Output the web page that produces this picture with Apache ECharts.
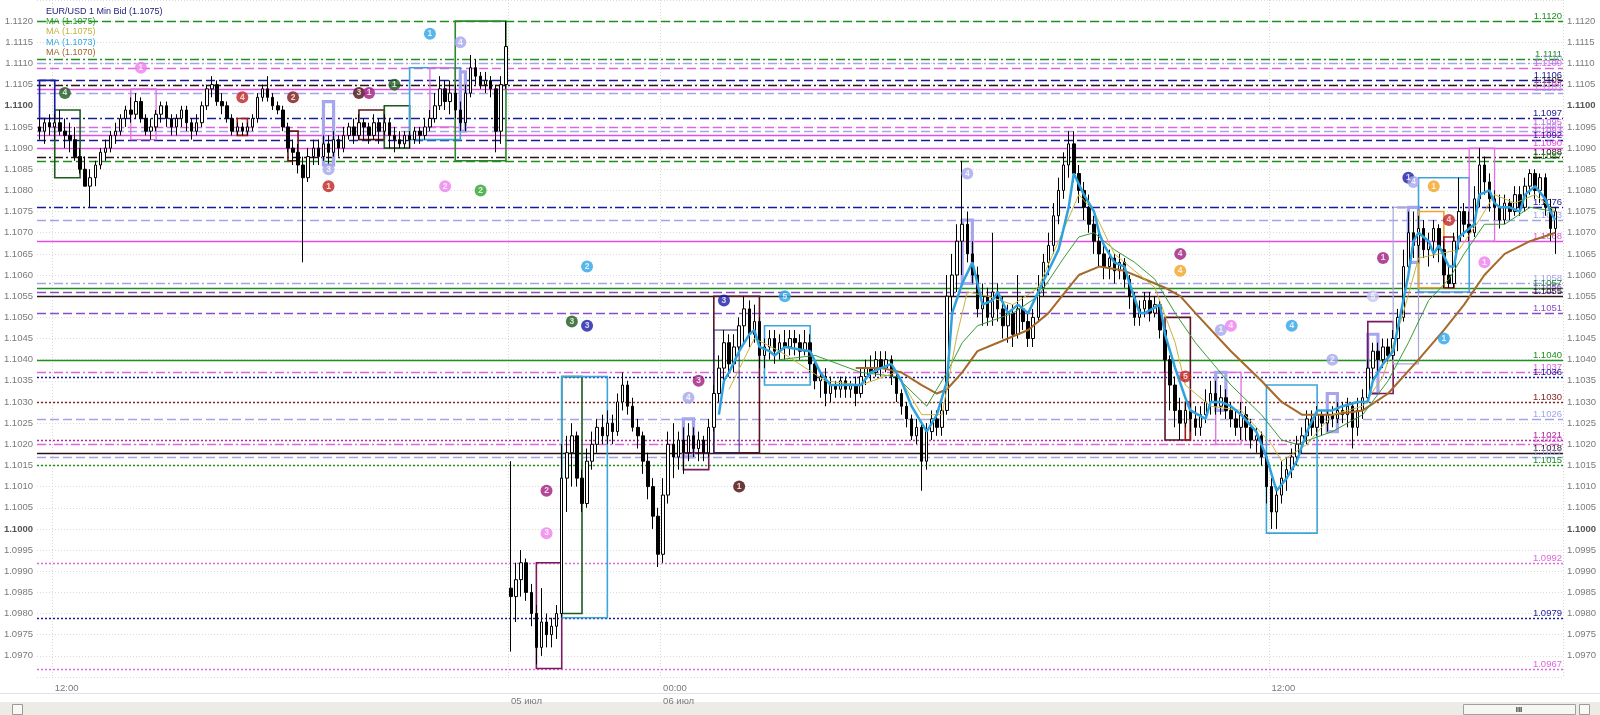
<!DOCTYPE html>
<html><head><meta charset="utf-8">
<script src="https://cdn.jsdelivr.net/npm/echarts@6/dist/echarts.min.js"></script>
<style>html,body{margin:0;padding:0;background:#fff}#c{width:1600px;height:715px}</style>
</head><body><div id="c"></div>
<script>
// prices are stored in pips above 1.0900 : [open, close, low, high]
const friBars = [
[195,194,192,197],[194,196,191,197],[196,195,193,198],[195,196,192,198],[196,194,193,199],[194,193,190,197],[193,192,189,196],[192,188,187,195],[188,185,184,190],[185,181,181,188],
[181,183,176,185],[183,186,181,187],[186,189,185,190],[189,190,187,192],[190,193,189,194],[193,194,191,196],[194,197,193,198],[197,199,195,200],[199,198,196,202],[198,201,197,203],
[201,197,196,202],[197,194,193,198],[194,195,192,197],[195,198,194,199],[198,200,196,201],[200,197,195,201],[197,195,193,198],[195,197,193,198],[197,199,195,200],[199,196,194,200],
[196,194,192,197],[194,196,193,198],[196,200,195,201],[200,204,199,205],[204,205,202,207],[205,201,200,206],[201,200,198,203],[200,197,196,201],[197,194,193,198],[194,195,193,196],
[195,194,193,196],[194,195,193,196],[195,197,194,198],[197,202,196,203],[202,204,201,205],[204,202,201,207],[202,200,199,203],[200,199,198,201],[199,195,194,200],[195,190,189,196],
[190,189,186,192],[189,186,184,191],[186,183,163,188],[183,188,182,190],[188,190,186,192],[190,188,186,192],[188,191,187,193],[191,189,186,193],[189,192,188,194],[192,190,188,193],
[190,193,189,195],[193,195,192,196],[195,193,191,197],[193,196,192,198],[196,195,192,197],[195,193,191,196],[193,196,192,198],[196,194,191,197],[194,196,193,198],[196,193,190,197],
[193,192,189,195],[192,191,190,194],[191,193,190,194],[193,192,190,194],[192,194,191,195],[194,193,191,195],[193,195,192,197],[195,197,194,199],[197,200,196,203],[200,204,199,207],
[204,201,199,206],[201,203,198,206],[203,199,197,205],[199,196,194,201],[196,203,194,205],[203,209,202,212],[209,207,205,211],[207,205,204,208],[205,206,203,208],[206,204,202,207],
[204,194,189,205],[194,205,191,207],[205,214,204,220]
];
const monBars = [
[86,84,71,116],[84,88,78,92],[88,92,84,95],[92,85,83,93],[85,80,77,87],[80,72,68,82],[72,78,70,86],[78,75,72,80],[75,77,72,79],[77,80,74,82],
[80,112,79,120],[112,118,104,122],[118,122,110,125],[122,112,110,123],[112,106,104,114],[106,116,105,119],[116,120,114,123],[120,124,118,126],[124,122,120,127],[122,125,120,128],
[125,123,120,127],[123,130,122,132],[130,134,128,137],[134,129,127,135],[129,124,123,131],[124,122,119,126],[122,116,113,123],[116,110,107,118],[110,103,100,112],[103,94,91,105],
[94,108,92,112],[108,120,106,123],[120,117,112,125],[117,121,114,123],[121,118,113,124],[118,122,116,125],[122,119,117,124],[119,121,116,123],[121,118,116,122],[118,124,117,126],
[124,132,123,134],[132,138,130,141],[138,144,134,147],[144,139,136,146],[139,143,137,146],[143,148,141,150],[148,152,144,155],[152,146,143,154],[146,149,144,153],[149,141,138,150],
[141,143,138,145],[143,145,140,147],[145,142,139,147],[142,144,140,146],[144,143,140,147],[143,145,141,147],[145,144,141,147],[144,142,140,146],[142,144,141,147],[144,139,137,146],
[139,135,133,140],[135,136,131,137],[136,132,129,138],[132,134,130,136],[134,133,131,135],[133,135,131,136],[135,133,131,136],[133,134,131,135],[134,132,129,136],[132,136,131,138],
[136,138,134,140],[138,137,135,141],[137,140,136,142],[140,138,136,142],[138,140,137,142],[140,136,134,141],[136,132,130,137],[132,129,127,133],[129,126,124,130],[126,122,121,127],
[122,124,120,126],[124,116,109,125],[116,123,114,125],[123,126,121,128],[126,124,122,128],[124,128,122,130],[128,155,127,160],[155,160,150,165],[160,168,156,172],[168,172,160,187],
[172,165,163,175],[165,160,158,168],[160,152,150,162],[152,155,148,158],[155,150,148,157],[150,156,148,170],[156,152,149,158],[152,148,145,155],[148,151,144,153],[151,146,143,153],
[146,152,145,160],[152,149,147,155],[149,145,143,151],[145,150,143,152],[150,157,149,160],[157,163,155,165],[163,167,160,170],[167,174,165,177],[174,180,172,183],[180,186,178,189],
[186,191,183,194],[191,184,182,194],[184,180,177,186],[180,176,173,182],[176,172,170,179],[172,168,165,174],[168,165,162,170],[165,162,159,167],[162,164,159,166],[164,161,158,165],
[161,163,159,165],[163,159,157,164],[159,155,152,160],[155,150,148,156],[150,152,148,154],[152,154,150,156],[154,151,149,156],[151,153,150,155],[153,147,145,154],[147,140,137,148],
[140,134,128,141],[134,128,124,136],[128,125,121,131],[125,128,124,130],[128,126,123,130],[126,124,122,129],[124,127,122,129],[127,130,125,133],[130,132,127,135],[132,129,127,135],
[129,131,127,134],[131,128,126,133],[128,126,124,130],[126,124,122,128],[124,127,121,130],[127,124,121,129],[124,121,119,126],[121,122,118,124],[122,117,115,123],[117,110,106,118],
[110,104,100,112],[104,108,100,110],[108,112,106,116],[112,114,109,117],[114,117,112,119],[117,120,115,122],[120,122,118,124],[122,126,120,128],[126,124,122,128],[124,127,122,129],
[127,125,122,128],[125,127,123,128],[127,126,124,129],[126,128,125,130],[128,127,125,130],[127,129,124,131],[129,124,119,130],[124,128,122,131],[128,131,126,133],[131,138,130,140],
[138,142,135,144],[142,140,137,144],[140,143,138,145],[143,141,139,145],[141,145,140,147],[145,150,142,152],[150,162,149,166],[162,170,160,175],[170,167,164,175],[167,171,163,174],
[171,166,164,173],[166,168,162,170],[168,171,164,173],[171,166,163,172],[166,160,157,168],[160,158,157,162],[158,168,157,170],[168,175,166,183],[175,172,169,177],[172,170,168,175],
[170,178,169,181],[178,186,176,190],[186,182,179,188],[182,178,175,184],[178,176,173,180],[176,173,171,179],[173,177,172,179],[177,175,173,178],[175,179,174,181],[179,176,174,181],
[176,181,175,183],[181,184,179,185],[184,180,178,185],[180,183,177,184],[183,176,174,184],[176,171,168,178],[171,175,165,176]
];
// moving averages: [bar index, pips above 1.0900]
const maGreen = [[146,140],[153,141],[162,137],[169,136],[175,129],[179,137],[182,144],[185,148],[192,151],[197,155],[202,164],[205,169],[208,170],[212,166],[216,163],[220,159],[224,151],[228,144],[235,134],[241,127],[245,121],[248,120],[255,123],[261,127],[266,135],[270,144],[274,154],[278,159],[281,165],[285,172],[289,172],[294,176],[299,175]];
const maYellow = [[136,133],[141,145],[146,142],[155,135],[162,134],[169,137],[174,127],[178,127],[181,146],[183,156],[187,155],[192,153],[197,157],[201,168],[205,179],[208,175],[212,165],[216,161],[220,157],[224,144],[226,134],[231,129],[237,128],[243,120],[245,116],[250,120],[255,127],[261,129],[265,136],[269,151],[272,164],[276,165],[280,166],[284,173],[287,179],[291,177],[295,179],[299,175]];
const maBlue = [[134,127],[135,135],[136,137],[138,142],[140,146],[141,147],[142,143],[144,142],[145,141],[147,143],[152,142],[154,137],[156,134],[159,134],[162,134],[164,137],[168,139],[170,135],[172,129],[175,123],[177,127],[179,135],[180,151],[182,158],[184,163],[185,158],[186,153],[188,154],[189,156],[191,151],[193,153],[195,151],[197,156],[199,161],[201,166],[203,176],[204,184],[206,179],[208,175],[209,170],[210,167],[212,163],[214,162],[215,158],[217,151],[218,151],[221,153],[222,146],[224,138],[226,131],[227,128],[230,126],[231,130],[233,130],[235,129],[237,127],[240,123],[242,117],[244,109],[246,112],[248,116],[250,123],[252,128],[255,128],[257,129],[260,130],[262,130],[263,135],[265,139],[267,142],[268,148],[270,160],[271,168],[272,170],[274,168],[275,165],[276,167],[278,162],[279,162],[280,169],[282,171],[283,172],[284,179],[286,180],[287,177],[288,176],[290,176],[292,175],[293,179],[295,181],[297,178],[298,175],[299,173]];
const maBrown = [[161,138],[166,138],[170,137],[174,134],[177,132],[179,133],[182,137],[185,142],[189,144],[195,147],[199,151],[203,157],[205,160],[209,162],[214,161],[218,159],[222,157],[225,155],[228,151],[235,142],[241,135],[245,130],[249,127],[255,127],[261,128],[266,132],[272,140],[277,147],[281,153],[285,160],[289,165],[294,168],[299,170]];

// horizontal levels
const hlVal = [1.1120,1.1111,1.1110,1.1109,1.1106,1.1105,1.1104,1.1103,1.1097,1.1095,1.1094,1.1093,1.1092,1.1090,1.1088,1.1087,1.1076,1.1073,1.1068,1.1058,1.1057,1.1056,1.1055,1.1051,1.1040,1.1037,1.1036,1.1030,1.1026,1.1021,1.1020,1.1018,1.1017,1.1015,1.0992,1.0979,1.0967];
const hlColorKey = ['green','green','lav','pink','navy','black','mag','lav','navy','pink','lav','mag','navy','mag','black','green','navy','lav','mag','lav','green','purple','black','purple','green','pink','navy','brown','lav','plum','pink','black','lav','green','pink','navy','pink'];
const hlDashKey = ['dash','dashdot','dashdot','dash','dash','dashdot','solid','dash','dashdot','dash','dash','solid','dash','solid','dashdot','dash','dashdot','dash','solid','dashdot','solid','dash','solid','dash','solid','dashdot','dot','dot','dash','dot','dashdot','solid','dash','dot','dot','dot','dot'];

// boxes: from bar, to bar, top, bottom, kind
const boxFrom = [3,0,18,39,49,56,63,68,73,77,83,82,98,103,103,127,127,133,133,143,182,222,226,232,232,242,254,262,262,267,270,272,272,277,282];
const boxTo   = [8,3,23,41,51,58,68,73,83,82,84,92,103,107,112,129,132,142,138,152,184,227,227,237,234,252,256,264,267,272,272,282,277,279,287];
const boxTop  = [1.1099,1.1106,1.1104,1.1097,1.1094,1.1101,1.1099,1.1100,1.1109,1.1109,1.1108,1.1120,1.0992,1.1036,1.1036,1.1026,1.1018,1.1055,1.1047,1.1048,1.1073,1.1050,1.1030,1.1037,1.1037,1.1034,1.1032,1.1046,1.1049,1.1076,1.1076,1.1083,1.1075,1.1069,1.1090];
const boxBot  = [1.1083,1.1097,1.1092,1.1093,1.1087,1.1086,1.1092,1.1090,1.1092,1.1095,1.1094,1.1087,1.0967,1.0980,1.0979,1.1017,1.1014,1.1018,1.1018,1.1034,1.1058,1.1021,1.1021,1.1020,1.1028,1.0999,1.1023,1.1032,1.1032,1.1039,1.1063,1.1056,1.1057,1.1057,1.1068];
const boxKind = ['dkgreen','navy','pink','red','darkred','lavT','brown','dkgreen','lblue','pink','lavT','green','plum','dkgreen','lblue','lavT','plum','maroon','navyT','lblue','lavT','maroon','red','pink','lavT','lblue','lavT','lavT','plum','lavThin','lavT','lblue','orange','red','pink'];

// numbered markers
const mkIdx = [5,20,40,50,63,65,70,57,57,80,87,77,83,108,105,108,100,100,130,128,138,135,147,183,225,225,233,235,247,255,263,226,265,270,271,275,278,285,277];
const mkVal = [1.1103,1.1109,1.1102,1.1102,1.1103,1.1103,1.1105,1.1085,1.1081,1.1081,1.1080,1.1117,1.1115,1.1062,1.1049,1.1048,1.1009,1.0999,1.1035,1.1031,1.1010,1.1054,1.1055,1.1084,1.1065,1.1061,1.1047,1.1048,1.1048,1.1040,1.1055,1.1036,1.1064,1.1083,1.1082,1.1081,1.1073,1.1063,1.1045];
const mkNum = ['4','1','4','2','3','1','1','3','1','2','2','1','4','2','3','3','2','3','3','4','1','3','5','4','4','4','1','4','4','2','5','5','1','1','4','1','4','1','1'];
const mkKind = ['dkgreen','pink','red','darkred','dkbrown','plum','dkgreen','lav','red','pink','green','lblue','lav','lblue','dkgreen','navy','plum','pink','plum','lav','maroon','navy','lblue','lav','plum','orange','lav','pink','lblue','lav','lavF','red','plum','navy','lav','orange','red','pink','lblue'];

// axis tick labels
const timeTickIdx = [3,123,243];
const timeTickText = ['12:00','00:00','12:00'];
const dateTickIdx = [93,123];
const dateTickText = ['05 июл','06 июл'];
const vGridIdx = [3,93,123,243];

// ---------- styles ----------
const FONT = 'Liberation Sans, Arial, sans-serif';
const LINE_COLOR = {green:'#1f8f1f',lav:'#a3a3ea',pink:'#dd66dd',navy:'#1a1a96',black:'#2a1512',mag:'#e24ee2',purple:'#8a4ccc',brown:'#8a2424',plum:'#b02c96'};
const DASH = {dash:[9,4],dashdot:[9,3,2,3],dot:[2,2],solid:null};
const BOX_STYLE = {
  dkgreen:{c:'#1d5a1d',w:1.6}, navy:{c:'#1a1aa0',w:1.6}, pink:{c:'#e070e0',w:1.3}, red:{c:'#a01818',w:1.6},
  darkred:{c:'#6e1616',w:1.6}, lavT:{c:'#a6a6ee',w:3.2}, brown:{c:'#5a1a1a',w:1.6}, lblue:{c:'#3aa6dc',w:1.6},
  green:{c:'#2a8a2a',w:1.6}, plum:{c:'#7a1a5e',w:1.6}, maroon:{c:'#5a1424',w:1.6}, navyT:{c:'#2a2a7a',w:1},
  orange:{c:'#f0a428',w:1.6}, lavThin:{c:'#a8a8d8',w:1.2}
};
const MK_COLOR = {dkgreen:'#1a5a1a',pink:'#ee80ee',red:'#c02222',darkred:'#7a1616',dkbrown:'#4a1414',plum:'#a01c7c',
  lav:'#a6a6ee',green:'#2ea22e',lblue:'#2ea4e6',navy:'#1a1aa6',maroon:'#4a0808',orange:'#f2a424',lavF:'#c8c8f2'};

const px = p => +(1.09 + p / 10000).toFixed(5);
const bars = friBars.concat(monBars);
const N = bars.length + 1;
const cats = [];
for (let k = 0; k < N; k++) cats.push(String(k));
const candle = bars.map(b => b.map(px));
const toLine = arr => arr.map(d => [d[0], px(d[1])]);
const last = arr => px(arr[arr.length - 1][1]).toFixed(4);

const chart = echarts.init(document.getElementById('c'), null, {renderer:'canvas'});
const axisLabelFmt = v => { const s = v.toFixed(4); return (s === '1.1100' || s === '1.1000') ? '{b|' + s + '}' : s; };
const yLabel = {fontSize:9.5, color:'#7a7a7a', fontFamily:FONT, showMinLabel:false, showMaxLabel:false, formatter:axisLabelFmt,
  rich:{b:{fontSize:9.5, fontWeight:'bold', color:'#555', fontFamily:FONT}}};

chart.setOption({
  animation:false,
  backgroundColor:'#ffffff',
  textStyle:{fontFamily:FONT},
  title:{
    left:41, top:1,
    text:'{a|EUR/USD 1 Min Bid (' + px(bars[bars.length-1][1]).toFixed(4) + ')}\n{g|MA (' + last(maGreen) + ')}\n{y|MA (' + last(maYellow) + ')}\n{b|MA (' + last(maBlue) + ')}\n{r|MA (' + last(maBrown) + ')}',
    textStyle:{fontSize:9, lineHeight:10.3, fontWeight:'normal', fontFamily:FONT,
      rich:{a:{color:'#1c1c7c',fontSize:9,lineHeight:10.3,fontFamily:FONT},g:{color:'#2e9e2e',fontSize:9,lineHeight:10.3,fontFamily:FONT},
        y:{color:'#c2b23a',fontSize:9,lineHeight:10.3,fontFamily:FONT},b:{color:'#34a6de',fontSize:9,lineHeight:10.3,fontFamily:FONT},
        r:{color:'#a0662c',fontSize:9,lineHeight:10.3,fontFamily:FONT}}}
  },
  grid:{left:37, right:37, top:-9, bottom:38},
  xAxis:[{
    type:'category', data:cats, boundaryGap:true,
    axisLine:{show:false}, axisTick:{show:false},
    axisLabel:{interval:(i)=>timeTickIdx.indexOf(i)>=0, formatter:(v,i)=>timeTickText[timeTickIdx.indexOf(i)]||'',
      align:'left', margin:6, fontSize:9.5, color:'#7a7a7a', fontFamily:FONT},
    splitLine:{show:true, interval:(i)=>vGridIdx.indexOf(i)>=0, lineStyle:{color:'#d8d8d8', type:[1,2]}}
  },{
    type:'category', data:cats, boundaryGap:true, position:'bottom', offset:13,
    axisLine:{show:false}, axisTick:{show:false}, splitLine:{show:false},
    axisLabel:{interval:(i)=>dateTickIdx.indexOf(i)>=0, formatter:(v,i)=>dateTickText[dateTickIdx.indexOf(i)]||'',
      align:'left', margin:6, fontSize:9.5, color:'#7a7a7a', fontFamily:FONT}
  }],
  yAxis:[{
    type:'value', position:'left', min:1.0965, max:1.1125, interval:0.0005, scale:true,
    axisLine:{show:false}, axisTick:{show:false}, axisLabel:Object.assign({margin:4}, yLabel),
    splitLine:{show:true, lineStyle:{color:'#dcdcdc', type:[1,2]}}
  },{
    type:'value', position:'right', min:1.0965, max:1.1125, interval:0.0005, scale:true,
    axisLine:{show:false}, axisTick:{show:false}, axisLabel:Object.assign({margin:4}, yLabel),
    splitLine:{show:false}
  }],
  series:[
    {
      type:'custom', name:'levels', z:1, silent:true, clip:false,
      data: hlVal.map(v=>[0, v]),
      encode:{x:0, y:1},
      renderItem:(params, api)=>{
        const k = params.dataIndex;
        const cs = params.coordSys;
        const y = Math.round(api.coord([0, api.value(1)])[1]) + 0.5;
        const col = LINE_COLOR[hlColorKey[k]];
        return {type:'group', children:[
          {type:'line', shape:{x1:cs.x, y1:y, x2:cs.x + cs.width, y2:y},
            style:{stroke:col, lineWidth:1.5, lineDash:DASH[hlDashKey[k]]}},
          {type:'text', style:{x:cs.x + cs.width - 1, y:y - 0.5, text:hlVal[k].toFixed(4), fill:col,
            font:'9.5px ' + FONT, align:'right', verticalAlign:'bottom'}}
        ]};
      }
    },
    {
      type:'custom', name:'boxes', z:2, silent:true,
      data: boxFrom.map((f,k)=>[f, boxTo[k], boxTop[k], boxBot[k]]),
      encode:{x:[0,1], y:[2,3]},
      renderItem:(params, api)=>{
        const a = api.coord([api.value(0), api.value(2)]);
        const b = api.coord([api.value(1), api.value(3)]);
        const st = BOX_STYLE[boxKind[params.dataIndex]];
        return {type:'rect', shape:{x:a[0], y:a[1], width:b[0]-a[0], height:b[1]-a[1]},
          style:{fill:'none', stroke:st.c, lineWidth:st.w}};
      }
    },
    {
      type:'candlestick', name:'EUR/USD', data:candle, z:3, barWidth:3,
      itemStyle:{color:'#ffffff', color0:'#000000', borderColor:'#000000', borderColor0:'#000000', borderWidth:1}
    },
    {type:'line', name:'MA brown', data:toLine(maBrown), z:4, symbol:'none', lineStyle:{color:'#a5692a', width:2}},
    {type:'line', name:'MA green', data:toLine(maGreen), z:4, symbol:'none', lineStyle:{color:'#3a9a3a', width:1}},
    {type:'line', name:'MA yellow', data:toLine(maYellow), z:4, symbol:'none', lineStyle:{color:'#c8b43c', width:1}},
    {type:'line', name:'MA blue', data:toLine(maBlue), z:5, symbol:'none', lineStyle:{color:'#2fa2de', width:2.5}},
    {
      type:'scatter', name:'marks', z:6, symbol:'circle', symbolSize:12,
      data: mkIdx.map((x,k)=>[x, mkVal[k]]),
      itemStyle:{color:(p)=>MK_COLOR[mkKind[p.dataIndex]]},
      label:{show:true, position:'inside', formatter:(p)=>mkNum[p.dataIndex], color:'#ffffff', fontSize:8.5, fontWeight:'bold', fontFamily:FONT}
    }
  ],
  graphic:[
    {type:'line', silent:true, shape:{x1:0,y1:693.5,x2:1600,y2:693.5}, style:{stroke:'#e2e2e2', lineWidth:1}},
    {type:'rect', silent:true, shape:{x:0,y:702,width:1600,height:13}, style:{fill:'#ecebe5'}},
    {type:'rect', silent:true, shape:{x:12.5,y:704.5,width:10,height:10}, style:{fill:'#f8f8f4', stroke:'#9a9a9a'}},
    {type:'rect', silent:true, shape:{x:1463.5,y:704.5,width:112,height:10}, style:{fill:'#f6f6f2', stroke:'#a0a0a0'}},
    {type:'text', silent:true, style:{x:1519, y:709.5, text:'III', fill:'#333', font:'bold 8px ' + FONT, align:'center', verticalAlign:'middle'}},
    {type:'rect', silent:true, shape:{x:1579.5,y:704.5,width:10,height:10}, style:{fill:'#f8f8f4', stroke:'#9a9a9a'}}
  ]
});
</script>
</body></html>
